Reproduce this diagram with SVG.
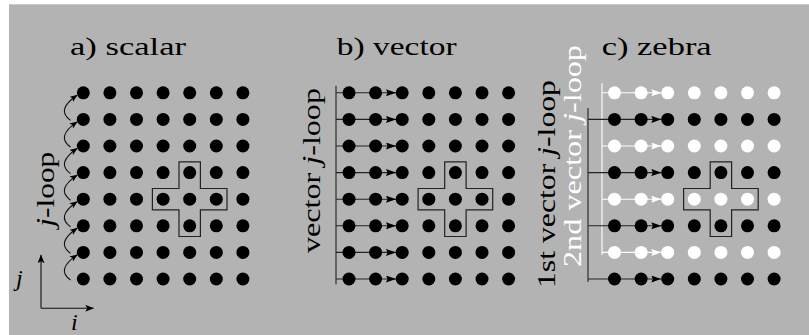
<svg xmlns="http://www.w3.org/2000/svg" width="809" height="335" viewBox="0 0 809 335">
<style>
.bg{fill:#b3b3b3}
.d{fill:#000}
.w{fill:#fff}
text{font-family:'Liberation Serif','DejaVu Serif','Times New Roman',serif;font-size:25px}
.t{fill:#000}
.tw{fill:#fff}
.it{font-style:italic}
.cross{fill:none;stroke:#222;stroke-width:1.2}
.lk{fill:none;stroke:#222;stroke-width:1.1}
.lw{fill:none;stroke:#fff;stroke-width:1.1}
.cv{fill:none;stroke:#111;stroke-width:1.1}
</style>
<defs>
<marker id="ahb" viewBox="0 0 10 7" refX="10" refY="3.5" markerWidth="10" markerHeight="7" orient="auto" markerUnits="userSpaceOnUse"><path d="M0,0 L10,3.5 L0,7 L1.5,3.5 Z" fill="#000"/></marker>
<marker id="ahw" viewBox="0 0 10 7" refX="10" refY="3.5" markerWidth="10" markerHeight="7" orient="auto" markerUnits="userSpaceOnUse"><path d="M0,0 L10,3.5 L0,7 L1.5,3.5 Z" fill="#fff"/></marker>
<marker id="ahs" viewBox="0 0 10 8" refX="9" refY="4" markerWidth="8" markerHeight="6.4" orient="auto" markerUnits="userSpaceOnUse"><path d="M0,0 L10,4 L0,8 L2.5,4 Z" fill="#000"/></marker>
<marker id="aha" viewBox="0 0 10 8" refX="9.5" refY="4" markerWidth="9" markerHeight="7" orient="auto" markerUnits="userSpaceOnUse"><path d="M0,0 L10,4 L0,8 L2.5,4 Z" fill="#000"/></marker>
<circle id="dot" r="6.5"/>
</defs>
<rect class="bg" x="9" y="4.3" width="800" height="330.7"/>

<g id="connectors">
  <path class="cv" marker-end="url(#ahs)" d="M70.5,120.4 C61,113.4 62,105.8 77,95.3"/>
  <path class="cv" marker-end="url(#ahs)" d="M70.5,147 C61,140 62,132.4 77,121.9"/>
  <path class="cv" marker-end="url(#ahs)" d="M70.5,173.6 C61,166.6 62,159 77,148.5"/>
  <path class="cv" marker-end="url(#ahs)" d="M70.5,200.2 C61,193.2 62,185.6 77,175.1"/>
  <path class="cv" marker-end="url(#ahs)" d="M70.5,226.8 C61,219.8 62,212.2 77,201.7"/>
  <path class="cv" marker-end="url(#ahs)" d="M70.5,253.4 C61,246.4 62,238.8 77,228.3"/>
  <path class="cv" marker-end="url(#ahs)" d="M70.5,280 C61,273 62,265.4 77,254.9"/>
  <path class="cv" marker-end="url(#aha)" d="M41,308.3 V255"/>
  <path class="cv" marker-end="url(#aha)" d="M41,308.3 H93.5"/>
  <path class="lk" d="M336,85.7 V284.3"/>
  <path class="lk" marker-end="url(#ahb)" d="M336,92.8 H396"/>
  <path class="lk" marker-end="url(#ahb)" d="M336,119.4 H396"/>
  <path class="lk" marker-end="url(#ahb)" d="M336,146 H396"/>
  <path class="lk" marker-end="url(#ahb)" d="M336,172.6 H396"/>
  <path class="lk" marker-end="url(#ahb)" d="M336,199.2 H396"/>
  <path class="lk" marker-end="url(#ahb)" d="M336,225.8 H396"/>
  <path class="lk" marker-end="url(#ahb)" d="M336,252.4 H396"/>
  <path class="lk" marker-end="url(#ahb)" d="M336,279 H396"/>
  <path class="lw" d="M602,83.3 V255"/>
  <path class="lk" d="M588,108 V282"/>
  <path class="lw" marker-end="url(#ahw)" d="M602,92.8 H661.3"/>
  <path class="lk" marker-end="url(#ahb)" d="M588,119.4 H661.3"/>
  <path class="lw" marker-end="url(#ahw)" d="M602,146 H661.3"/>
  <path class="lk" marker-end="url(#ahb)" d="M588,172.6 H661.3"/>
  <path class="lw" marker-end="url(#ahw)" d="M602,199.2 H661.3"/>
  <path class="lk" marker-end="url(#ahb)" d="M588,225.8 H661.3"/>
  <path class="lw" marker-end="url(#ahw)" d="M602,252.4 H661.3"/>
  <path class="lk" marker-end="url(#ahb)" d="M588,279 H661.3"/>
</g>

<g id="labels">
  <text class="t" font-family="Liberation Serif, DejaVu Serif, serif" x="70" y="54.5" textLength="116" lengthAdjust="spacingAndGlyphs">a) scalar</text>
  <text class="t" font-family="Liberation Serif, DejaVu Serif, serif" x="336.7" y="54.5" textLength="120" lengthAdjust="spacingAndGlyphs">b) vector</text>
  <text class="t" font-family="Liberation Serif, DejaVu Serif, serif" x="601.7" y="54.5" textLength="110" lengthAdjust="spacingAndGlyphs">c) zebra</text>
  <text class="t" transform="translate(54,226.7) rotate(-90)" textLength="75" lengthAdjust="spacingAndGlyphs"><tspan class="it">j</tspan>-loop</text>
  <text class="t" transform="translate(320,253) rotate(-90)" textLength="165" lengthAdjust="spacingAndGlyphs">vector <tspan class="it">j</tspan>-loop</text>
  <text class="t" transform="translate(555,288) rotate(-90)" textLength="208" lengthAdjust="spacingAndGlyphs">1st vector <tspan class="it">j</tspan>-loop</text>
  <text class="tw" transform="translate(581,267) rotate(-90)" textLength="222" lengthAdjust="spacingAndGlyphs">2nd vector <tspan class="it">j</tspan>-loop</text>
  <text class="t it" x="16" y="285.5" style="font-size:24px">j</text>
  <text class="t it" x="71" y="329.5" style="font-size:24px">i</text>
</g>

<g id="grid-a">
  <g id="a-r1"><use href="#dot" class="d" x="83.3" y="92.8"/><use href="#dot" class="d" x="109.9" y="92.8"/><use href="#dot" class="d" x="136.5" y="92.8"/><use href="#dot" class="d" x="163.1" y="92.8"/><use href="#dot" class="d" x="189.7" y="92.8"/><use href="#dot" class="d" x="216.3" y="92.8"/><use href="#dot" class="d" x="242.9" y="92.8"/></g>
  <g id="a-r2"><use href="#dot" class="d" x="83.3" y="119.4"/><use href="#dot" class="d" x="109.9" y="119.4"/><use href="#dot" class="d" x="136.5" y="119.4"/><use href="#dot" class="d" x="163.1" y="119.4"/><use href="#dot" class="d" x="189.7" y="119.4"/><use href="#dot" class="d" x="216.3" y="119.4"/><use href="#dot" class="d" x="242.9" y="119.4"/></g>
  <g id="a-r3"><use href="#dot" class="d" x="83.3" y="146"/><use href="#dot" class="d" x="109.9" y="146"/><use href="#dot" class="d" x="136.5" y="146"/><use href="#dot" class="d" x="163.1" y="146"/><use href="#dot" class="d" x="189.7" y="146"/><use href="#dot" class="d" x="216.3" y="146"/><use href="#dot" class="d" x="242.9" y="146"/></g>
  <g id="a-r4"><use href="#dot" class="d" x="83.3" y="172.6"/><use href="#dot" class="d" x="109.9" y="172.6"/><use href="#dot" class="d" x="136.5" y="172.6"/><use href="#dot" class="d" x="163.1" y="172.6"/><use href="#dot" class="d" x="189.7" y="172.6"/><use href="#dot" class="d" x="216.3" y="172.6"/><use href="#dot" class="d" x="242.9" y="172.6"/></g>
  <g id="a-r5"><use href="#dot" class="d" x="83.3" y="199.2"/><use href="#dot" class="d" x="109.9" y="199.2"/><use href="#dot" class="d" x="136.5" y="199.2"/><use href="#dot" class="d" x="163.1" y="199.2"/><use href="#dot" class="d" x="189.7" y="199.2"/><use href="#dot" class="d" x="216.3" y="199.2"/><use href="#dot" class="d" x="242.9" y="199.2"/></g>
  <g id="a-r6"><use href="#dot" class="d" x="83.3" y="225.8"/><use href="#dot" class="d" x="109.9" y="225.8"/><use href="#dot" class="d" x="136.5" y="225.8"/><use href="#dot" class="d" x="163.1" y="225.8"/><use href="#dot" class="d" x="189.7" y="225.8"/><use href="#dot" class="d" x="216.3" y="225.8"/><use href="#dot" class="d" x="242.9" y="225.8"/></g>
  <g id="a-r7"><use href="#dot" class="d" x="83.3" y="252.4"/><use href="#dot" class="d" x="109.9" y="252.4"/><use href="#dot" class="d" x="136.5" y="252.4"/><use href="#dot" class="d" x="163.1" y="252.4"/><use href="#dot" class="d" x="189.7" y="252.4"/><use href="#dot" class="d" x="216.3" y="252.4"/><use href="#dot" class="d" x="242.9" y="252.4"/></g>
  <g id="a-r8"><use href="#dot" class="d" x="83.3" y="279"/><use href="#dot" class="d" x="109.9" y="279"/><use href="#dot" class="d" x="136.5" y="279"/><use href="#dot" class="d" x="163.1" y="279"/><use href="#dot" class="d" x="189.7" y="279"/><use href="#dot" class="d" x="216.3" y="279"/><use href="#dot" class="d" x="242.9" y="279"/></g>
  <g id="a-stencil"><path class="cross" d="M179,161.9 H200.4 V188.5 H227 V209.9 H200.4 V236.5 H179 V209.9 H152.4 V188.5 H179 Z"/></g>
</g>

<g id="grid-b">
  <g id="b-r1"><use href="#dot" class="d" x="349" y="92.8"/><use href="#dot" class="d" x="375.6" y="92.8"/><use href="#dot" class="d" x="402.2" y="92.8"/><use href="#dot" class="d" x="428.8" y="92.8"/><use href="#dot" class="d" x="455.4" y="92.8"/><use href="#dot" class="d" x="482" y="92.8"/><use href="#dot" class="d" x="508.6" y="92.8"/></g>
  <g id="b-r2"><use href="#dot" class="d" x="349" y="119.4"/><use href="#dot" class="d" x="375.6" y="119.4"/><use href="#dot" class="d" x="402.2" y="119.4"/><use href="#dot" class="d" x="428.8" y="119.4"/><use href="#dot" class="d" x="455.4" y="119.4"/><use href="#dot" class="d" x="482" y="119.4"/><use href="#dot" class="d" x="508.6" y="119.4"/></g>
  <g id="b-r3"><use href="#dot" class="d" x="349" y="146"/><use href="#dot" class="d" x="375.6" y="146"/><use href="#dot" class="d" x="402.2" y="146"/><use href="#dot" class="d" x="428.8" y="146"/><use href="#dot" class="d" x="455.4" y="146"/><use href="#dot" class="d" x="482" y="146"/><use href="#dot" class="d" x="508.6" y="146"/></g>
  <g id="b-r4"><use href="#dot" class="d" x="349" y="172.6"/><use href="#dot" class="d" x="375.6" y="172.6"/><use href="#dot" class="d" x="402.2" y="172.6"/><use href="#dot" class="d" x="428.8" y="172.6"/><use href="#dot" class="d" x="455.4" y="172.6"/><use href="#dot" class="d" x="482" y="172.6"/><use href="#dot" class="d" x="508.6" y="172.6"/></g>
  <g id="b-r5"><use href="#dot" class="d" x="349" y="199.2"/><use href="#dot" class="d" x="375.6" y="199.2"/><use href="#dot" class="d" x="402.2" y="199.2"/><use href="#dot" class="d" x="428.8" y="199.2"/><use href="#dot" class="d" x="455.4" y="199.2"/><use href="#dot" class="d" x="482" y="199.2"/><use href="#dot" class="d" x="508.6" y="199.2"/></g>
  <g id="b-r6"><use href="#dot" class="d" x="349" y="225.8"/><use href="#dot" class="d" x="375.6" y="225.8"/><use href="#dot" class="d" x="402.2" y="225.8"/><use href="#dot" class="d" x="428.8" y="225.8"/><use href="#dot" class="d" x="455.4" y="225.8"/><use href="#dot" class="d" x="482" y="225.8"/><use href="#dot" class="d" x="508.6" y="225.8"/></g>
  <g id="b-r7"><use href="#dot" class="d" x="349" y="252.4"/><use href="#dot" class="d" x="375.6" y="252.4"/><use href="#dot" class="d" x="402.2" y="252.4"/><use href="#dot" class="d" x="428.8" y="252.4"/><use href="#dot" class="d" x="455.4" y="252.4"/><use href="#dot" class="d" x="482" y="252.4"/><use href="#dot" class="d" x="508.6" y="252.4"/></g>
  <g id="b-r8"><use href="#dot" class="d" x="349" y="279"/><use href="#dot" class="d" x="375.6" y="279"/><use href="#dot" class="d" x="402.2" y="279"/><use href="#dot" class="d" x="428.8" y="279"/><use href="#dot" class="d" x="455.4" y="279"/><use href="#dot" class="d" x="482" y="279"/><use href="#dot" class="d" x="508.6" y="279"/></g>
  <g id="b-stencil"><path class="cross" d="M444.7,161.9 H466.1 V188.5 H492.7 V209.9 H466.1 V236.5 H444.7 V209.9 H418.1 V188.5 H444.7 Z"/></g>
</g>

<g id="grid-c">
  <g id="c-r1"><use href="#dot" class="w" x="614.5" y="92.8"/><use href="#dot" class="w" x="641.1" y="92.8"/><use href="#dot" class="w" x="667.7" y="92.8"/><use href="#dot" class="w" x="694.3" y="92.8"/><use href="#dot" class="w" x="720.9" y="92.8"/><use href="#dot" class="w" x="747.5" y="92.8"/><use href="#dot" class="w" x="774.1" y="92.8"/></g>
  <g id="c-r2"><use href="#dot" class="d" x="614.5" y="119.4"/><use href="#dot" class="d" x="641.1" y="119.4"/><use href="#dot" class="d" x="667.7" y="119.4"/><use href="#dot" class="d" x="694.3" y="119.4"/><use href="#dot" class="d" x="720.9" y="119.4"/><use href="#dot" class="d" x="747.5" y="119.4"/><use href="#dot" class="d" x="774.1" y="119.4"/></g>
  <g id="c-r3"><use href="#dot" class="w" x="614.5" y="146"/><use href="#dot" class="w" x="641.1" y="146"/><use href="#dot" class="w" x="667.7" y="146"/><use href="#dot" class="w" x="694.3" y="146"/><use href="#dot" class="w" x="720.9" y="146"/><use href="#dot" class="w" x="747.5" y="146"/><use href="#dot" class="w" x="774.1" y="146"/></g>
  <g id="c-r4"><use href="#dot" class="d" x="614.5" y="172.6"/><use href="#dot" class="d" x="641.1" y="172.6"/><use href="#dot" class="d" x="667.7" y="172.6"/><use href="#dot" class="d" x="694.3" y="172.6"/><use href="#dot" class="d" x="720.9" y="172.6"/><use href="#dot" class="d" x="747.5" y="172.6"/><use href="#dot" class="d" x="774.1" y="172.6"/></g>
  <g id="c-r5"><use href="#dot" class="w" x="614.5" y="199.2"/><use href="#dot" class="w" x="641.1" y="199.2"/><use href="#dot" class="w" x="667.7" y="199.2"/><use href="#dot" class="w" x="694.3" y="199.2"/><use href="#dot" class="w" x="720.9" y="199.2"/><use href="#dot" class="w" x="747.5" y="199.2"/><use href="#dot" class="w" x="774.1" y="199.2"/></g>
  <g id="c-r6"><use href="#dot" class="d" x="614.5" y="225.8"/><use href="#dot" class="d" x="641.1" y="225.8"/><use href="#dot" class="d" x="667.7" y="225.8"/><use href="#dot" class="d" x="694.3" y="225.8"/><use href="#dot" class="d" x="720.9" y="225.8"/><use href="#dot" class="d" x="747.5" y="225.8"/><use href="#dot" class="d" x="774.1" y="225.8"/></g>
  <g id="c-r7"><use href="#dot" class="w" x="614.5" y="252.4"/><use href="#dot" class="w" x="641.1" y="252.4"/><use href="#dot" class="w" x="667.7" y="252.4"/><use href="#dot" class="w" x="694.3" y="252.4"/><use href="#dot" class="w" x="720.9" y="252.4"/><use href="#dot" class="w" x="747.5" y="252.4"/><use href="#dot" class="w" x="774.1" y="252.4"/></g>
  <g id="c-r8"><use href="#dot" class="d" x="614.5" y="279"/><use href="#dot" class="d" x="641.1" y="279"/><use href="#dot" class="d" x="667.7" y="279"/><use href="#dot" class="d" x="694.3" y="279"/><use href="#dot" class="d" x="720.9" y="279"/><use href="#dot" class="d" x="747.5" y="279"/><use href="#dot" class="d" x="774.1" y="279"/></g>
  <g id="c-stencil"><path class="cross" d="M710.2,161.9 H731.6 V188.5 H758.2 V209.9 H731.6 V236.5 H710.2 V209.9 H683.6 V188.5 H710.2 Z"/></g>
</g>
</svg>
